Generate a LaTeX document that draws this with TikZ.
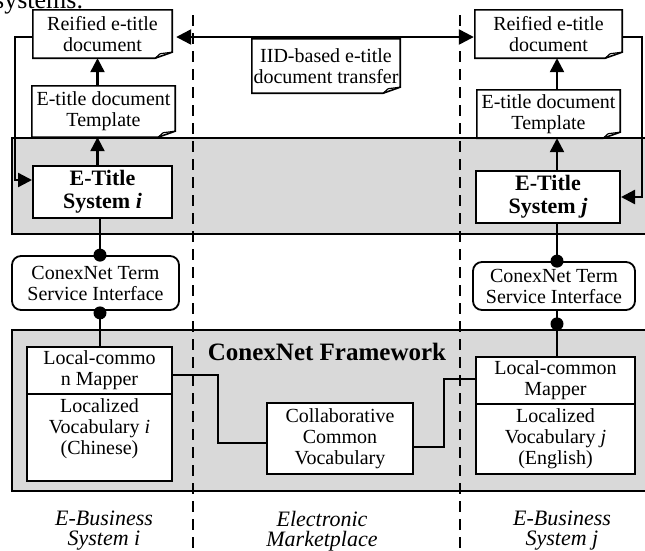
\documentclass[tikz,border=0pt]{standalone}
\usepackage{fontspec}
\setmainfont{Liberation Serif}
\usetikzlibrary{arrows.meta,calc}
\newcommand\docshape[1]{%
  \draw[docline] (#1.north west) -- (#1.north east) -- ([yshift=6pt]#1.south east)
    -- ([xshift=-17pt]#1.south east) -- (#1.south west) -- cycle;
  \draw[docline,line width=1.2pt,line join=round] ([xshift=-17pt]#1.south east) -- ([xshift=-12pt,yshift=4.5pt]#1.south east) -- ([yshift=6pt]#1.south east);}
\begin{document}
\begin{tikzpicture}[x=1pt,y=-1pt,
  txt/.style={font=\fontsize{20}{21}\selectfont, align=center, inner sep=0pt},
  docnode/.style={txt, minimum width=#1},
  docline/.style={line width=1.6pt, line join=miter},
  plainbox/.style={txt, draw, line width=1.8pt, fill=white, minimum width=#1},
  etbox/.style={font=\fontsize{22}{23}\selectfont\bfseries, align=center, inner sep=0pt, draw, line width=2pt, fill=white, minimum width=#1},
  rbox/.style={txt, draw, line width=1.8pt, fill=white, rounded corners=9pt, minimum width=#1},
  band/.style={fill=black!15, draw=black, line width=1.5pt},
  sepline/.style={line width=1.8pt, dash pattern=on 11pt off 7pt},
  conn/.style={line width=2.4pt},
  thinconn/.style={line width=1.8pt},
  arr/.style={line width=2.4pt, -{Triangle[length=14pt,width=14pt]}},
  darr/.style={line width=2.4pt, {Triangle[length=15pt,width=15pt]}-{Triangle[length=15pt,width=15pt]}},
  lbl/.style={font=\fontsize{22}{20}\selectfont\itshape, align=center, inner sep=0pt},
  dot/.style={fill=black}
]
\useasboundingbox (0,0) rectangle (645,550);

% caption fragment
\node[font=\fontsize{26}{26}\selectfont, anchor=base west, inner sep=0pt] (cap) at (-6,8) {systems.};

% bands
\draw[band] (12,138) rectangle (670,234);
\draw[band] (12,330) rectangle (670,491);

% separators
\coordinate (s1t) at (193,15); \coordinate (s1b) at (193,555);
\coordinate (s2t) at (460,15); \coordinate (s2b) at (460,555);
\draw[sepline] (s1t) -- (s1b);
\draw[sepline] (s2t) -- (s2b);

% left column
\node[docnode=139pt, minimum height=48pt] (ri) at (102.5,34) {Reified e-title\\document};
\docshape{ri}
\node[docnode=143pt, minimum height=51pt] (ti) at (103.5,111.5) {E-title document\\Template};
\docshape{ti}
\node[etbox=139pt, minimum height=52pt] (ei) at (102.5,192) {E-Title\\System \textit{i}};
\node[rbox=167pt, minimum height=54pt] (ci) at (95.5,283) {ConexNet Term\\Service Interface};
\node[plainbox=145pt, minimum height=47pt] (mi) at (99.5,370.5) {Local-commo\\n Mapper};
\node[plainbox=145pt, minimum height=87pt] (vi) at (99.5,437.5) {};
\node[txt, anchor=north] (vit) at ([yshift=-5pt]vi.north) {Localized\\Vocabulary \textit{i}\\(Chinese)};

% middle
\node[docnode=148pt, minimum height=54pt] (iid) at (326,66) {IID-based e-title\\document transfer};
\docshape{iid}
\node[font=\fontsize{25}{26}\selectfont\bfseries, inner sep=0pt] (cnf) at (327,352) {ConexNet Framework};
\node[plainbox=146pt, minimum height=71pt] (col) at (340,438.5) {Collaborative\\Common\\Vocabulary};

% right column
\node[docnode=147pt, minimum height=48pt] (rj) at (548.5,34) {Reified e-title\\document};
\docshape{rj}
\node[docnode=143pt, minimum height=48pt] (tj) at (548.5,114) {E-title document\\Template};
\docshape{tj}
\node[etbox=144pt, minimum height=52pt] (ej) at (548,197) {E-Title\\System \textit{j}};
\node[rbox=162pt, minimum height=48pt] (cj) at (554,286) {ConexNet Term\\Service Interface};
\node[plainbox=159pt, minimum height=47pt] (mj) at (555.5,380.5) {Local-common\\Mapper};
\node[plainbox=159pt, minimum height=70pt] (vj) at (555.5,439) {Localized\\Vocabulary \textit{j}\\(English)};

% bottom labels
\node[lbl] (li) at (104,531) {E-Business\\System i};
\node[lbl] (lm) at (322,531) {Electronic\\Marketplace};
\node[lbl] (lj) at (562,531) {E-Business\\System j};

% arrows in the columns
\draw[arr] ([xshift=-6pt]ti.north) -- ([xshift=-6pt]ti.north |- ri.south);
\draw[arr] ([xshift=-5pt]ei.north) -- ([xshift=-5pt]ei.north |- ti.south);
\draw[arr] ([xshift=8.5pt]tj.north) -- ([xshift=8.5pt]tj.north |- rj.south);
\draw[arr] ([xshift=9pt]ej.north) -- ([xshift=9pt]ej.north |- tj.south);

% loop arrows
\coordinate (lx) at (15,0);
\coordinate (rx) at (642,0);
\draw[arr] ([yshift=-3pt]ri.west) -- ([yshift=-3pt]ri.west -| lx) -- ([yshift=12pt]ei.west -| lx) -- ([yshift=12pt]ei.west);
\draw[arr] ([yshift=-3pt]rj.east) -- ([yshift=-3pt]rj.east -| rx) -- (ej.east -| rx) -- (ej.east);

% transfer arrow
\draw[darr, shorten <=4pt, shorten >=1pt] ([yshift=-3pt]ri.east) -- ([yshift=-3pt]rj.west);

% service connections
\draw[conn] ([xshift=-2.5pt]ei.south) -- ([xshift=-2.5pt]ei.south |- ci.north);
\draw[conn] ([xshift=4.5pt]ci.south) -- ([xshift=4.5pt]ci.south |- mi.north);
\fill[dot] ([xshift=4.5pt]ci.north) circle (6.5pt);
\fill[dot] ([xshift=4.5pt,yshift=-2pt]ci.south) circle (6.5pt);

\draw[conn] ([xshift=9pt]ej.south) -- ([xshift=9pt]ej.south |- cj.north);
\draw[conn] ([xshift=3pt]cj.south) -- ([xshift=3pt]cj.south |- mj.north);
\fill[dot] ([xshift=3pt]cj.north) circle (6.5pt);
\fill[dot] ([xshift=3pt,yshift=-13pt]cj.south) circle (6.5pt);

% mapper to common vocabulary
\coordinate (k1) at (218,0);
\coordinate (k2) at (444,0);
\draw[thinconn] ([yshift=-4.5pt]mi.east) -- ([yshift=-4.5pt]mi.east -| k1) -- ([yshift=-4.5pt]col.west -| k1) -- ([yshift=-4.5pt]col.west);
\draw[thinconn] ([yshift=-8.5pt]col.east) -- ([yshift=-8.5pt]col.east -| k2) -- ([yshift=1.5pt]mj.west -| k2) -- ([yshift=1.5pt]mj.west);
\end{tikzpicture}
\end{document}
